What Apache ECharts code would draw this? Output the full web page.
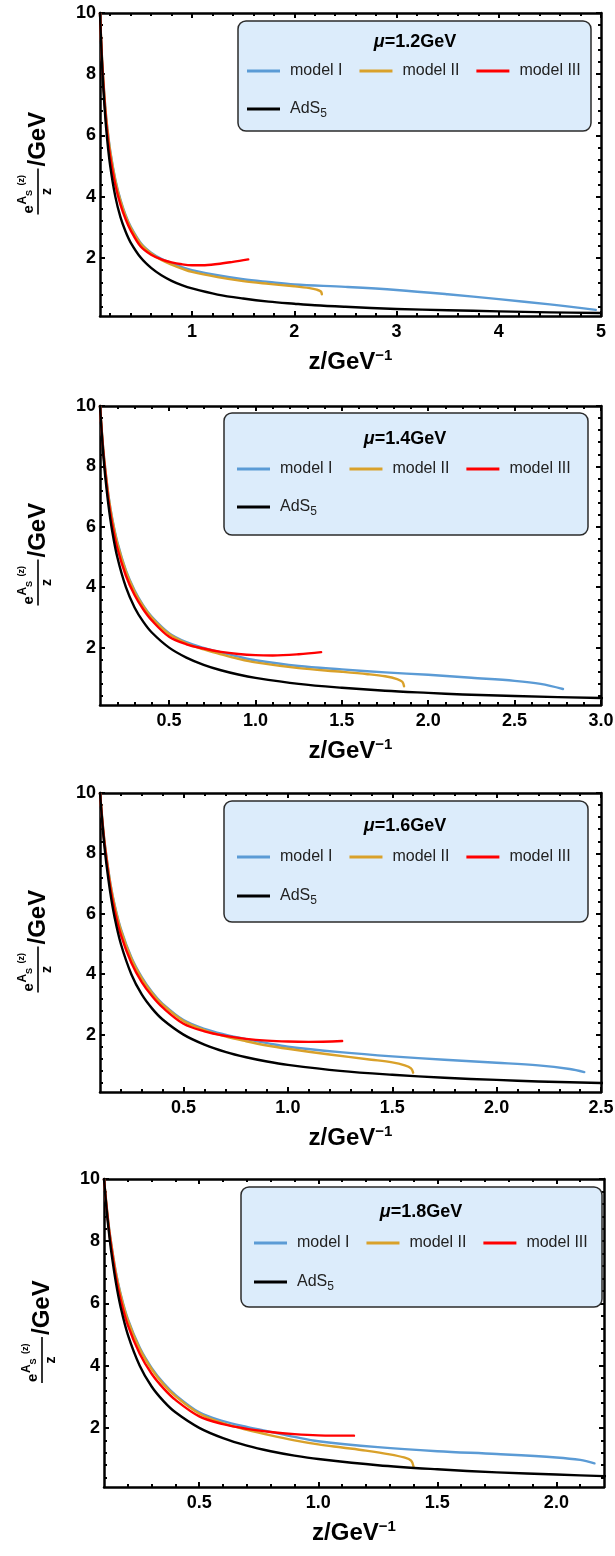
<!DOCTYPE html>
<html>
<head>
<meta charset="utf-8">
<script src="https://cdn.jsdelivr.net/npm/echarts@6/dist/echarts.min.js"></script>
<style>
  html, body { margin: 0; padding: 0; background: #fff; }
  #chart { width: 615px; height: 1556px; }
</style>
</head>
<body>
<div id="chart"></div>
<script>
// ---- data -------------------------------------------------------------
const muValues = ['1.2', '1.4', '1.6', '1.8'];           // GeV
const zMax = [5, 3, 2.5, 2.2];                            // upper z of each panel
const xTickValues = [
  [1, 2, 3, 4, 5],
  [0.5, 1.0, 1.5, 2.0, 2.5, 3.0],
  [0.5, 1.0, 1.5, 2.0, 2.5],
  [0.5, 1.0, 1.5, 2.0]
];
const yTickValues = [2, 4, 6, 8, 10];
const seriesNames = ['model I', 'model II', 'model III', 'AdS5'];

// pure AdS5 background: e^{A_s}/z with A_s = 0
const ads5 = [[0.1,10],[0.11,9.09],[0.12,8.33],[0.13,7.69],[0.15,6.67],[0.17,5.88],[0.2,5],[0.25,4],
  [0.3,3.33],[0.35,2.86],[0.4,2.5],[0.5,2],[0.6,1.67],[0.7,1.43],[0.8,1.25],[0.9,1.11],[1,1],
  [1.25,0.8],[1.5,0.67],[1.75,0.57],[2,0.5],[2.2,0.45],[2.5,0.4],[3,0.33],[3.5,0.29],[4,0.25],[4.5,0.22],[5,0.2]];

// mu = 1.2 GeV
const modelI_mu12 = [[0.1,10],[0.11,9.2],[0.12,8.5],[0.13,7.95],[0.15,7.0],[0.17,6.3],[0.2,5.5],[0.25,4.56],
  [0.3,3.9],[0.35,3.4],[0.4,3.02],[0.5,2.48],[0.6,2.17],[0.7,1.97],[0.8,1.83],[0.9,1.7],[1.0,1.6],[1.25,1.43],
  [1.5,1.3],[1.75,1.21],[2.0,1.13],[2.5,1.05],[3.0,0.95],[3.5,0.81],[4.0,0.65],[4.5,0.48],[4.95,0.3]];
const modelII_mu12 = [[0.1,10],[0.11,9.2],[0.12,8.48],[0.13,7.93],[0.15,6.97],[0.17,6.27],[0.2,5.46],[0.25,4.52],
  [0.3,3.86],[0.35,3.37],[0.4,2.99],[0.5,2.45],[0.6,2.14],[0.7,1.93],[0.8,1.78],[0.9,1.65],[1.0,1.54],[1.25,1.37],
  [1.5,1.24],[1.75,1.15],[2.0,1.07],[2.15,1.01],[2.22,0.96],[2.26,0.9],[2.27,0.81]];
const modelIII_mu12 = [[0.1,10],[0.11,9.15],[0.12,8.42],[0.13,7.85],[0.15,6.85],[0.17,6.12],[0.2,5.3],[0.25,4.38],
  [0.3,3.74],[0.35,3.27],[0.4,2.9],[0.5,2.36],[0.6,2.1],[0.7,1.95],[0.8,1.85],[0.9,1.79],[1.0,1.76],[1.1,1.76],
  [1.25,1.8],[1.4,1.87],[1.55,1.95]];

// mu = 1.4 GeV
const modelI_mu14 = [[0.1,10],[0.11,9.2],[0.12,8.5],[0.13,7.95],[0.15,7.0],[0.17,6.3],[0.2,5.5],[0.25,4.56],
  [0.3,3.9],[0.35,3.4],[0.4,3.02],[0.5,2.48],[0.6,2.18],[0.7,1.99],[0.8,1.84],[0.9,1.7],[1.0,1.58],[1.25,1.39],
  [1.5,1.28],[1.75,1.18],[2.0,1.1],[2.25,1.0],[2.5,0.9],[2.65,0.8],[2.78,0.63]];
const modelII_mu14 = [[0.1,10],[0.11,9.2],[0.12,8.48],[0.13,7.93],[0.15,6.97],[0.17,6.27],[0.2,5.46],[0.25,4.52],
  [0.3,3.86],[0.35,3.37],[0.4,2.99],[0.5,2.45],[0.6,2.14],[0.7,1.94],[0.8,1.78],[0.9,1.63],[1.0,1.51],[1.25,1.32],
  [1.5,1.2],[1.65,1.12],[1.75,1.05],[1.82,0.96],[1.85,0.87],[1.86,0.72]];
const modelIII_mu14 = [[0.1,10],[0.11,9.15],[0.12,8.42],[0.13,7.85],[0.15,6.85],[0.17,6.12],[0.2,5.3],[0.25,4.38],
  [0.3,3.74],[0.35,3.27],[0.4,2.9],[0.5,2.36],[0.6,2.11],[0.7,1.97],[0.8,1.86],[0.9,1.79],[1.0,1.75],[1.1,1.74],
  [1.25,1.78],[1.38,1.85]];

// mu = 1.6 GeV
const modelI_mu16 = [[0.1,10],[0.11,9.2],[0.12,8.5],[0.13,7.95],[0.15,7.0],[0.17,6.3],[0.2,5.5],[0.25,4.56],
  [0.3,3.9],[0.35,3.4],[0.4,3.02],[0.5,2.48],[0.6,2.19],[0.7,2.0],[0.8,1.85],[0.9,1.72],[1.0,1.6],[1.25,1.42],
  [1.5,1.28],[1.75,1.17],[2.0,1.07],[2.2,0.98],[2.35,0.86],[2.42,0.76]];
const modelII_mu16 = [[0.1,10],[0.11,9.2],[0.12,8.48],[0.13,7.93],[0.15,6.97],[0.17,6.27],[0.2,5.46],[0.25,4.52],
  [0.3,3.86],[0.35,3.37],[0.4,2.99],[0.5,2.45],[0.6,2.15],[0.7,1.94],[0.8,1.78],[0.9,1.64],[1.0,1.53],[1.2,1.34],
  [1.4,1.17],[1.5,1.08],[1.56,0.98],[1.59,0.88],[1.6,0.74]];
const modelIII_mu16 = [[0.1,10],[0.11,9.15],[0.12,8.42],[0.13,7.85],[0.15,6.85],[0.17,6.12],[0.2,5.3],[0.25,4.38],
  [0.3,3.74],[0.35,3.27],[0.4,2.9],[0.5,2.36],[0.6,2.11],[0.7,1.96],[0.8,1.86],[0.9,1.8],[1.0,1.77],[1.1,1.76],
  [1.26,1.79]];

// mu = 1.8 GeV
const modelI_mu18 = [[0.1,10],[0.11,9.2],[0.12,8.5],[0.13,7.95],[0.15,7.0],[0.17,6.3],[0.2,5.5],[0.25,4.58],
  [0.3,3.93],[0.35,3.44],[0.4,3.06],[0.5,2.5],[0.6,2.22],[0.7,2.03],[0.8,1.87],[0.9,1.71],[1.0,1.57],[1.25,1.38],
  [1.5,1.25],[1.75,1.16],[2.0,1.05],[2.1,0.97],[2.16,0.86]];
const modelII_mu18 = [[0.1,10],[0.11,9.2],[0.12,8.48],[0.13,7.93],[0.15,6.97],[0.17,6.27],[0.2,5.46],[0.25,4.54],
  [0.3,3.89],[0.35,3.4],[0.4,3.02],[0.5,2.46],[0.6,2.15],[0.7,1.94],[0.8,1.76],[0.9,1.6],[1.0,1.47],[1.1,1.37],
  [1.2,1.27],[1.3,1.15],[1.36,1.05],[1.39,0.95],[1.4,0.76]];
const modelIII_mu18 = [[0.1,10],[0.11,9.15],[0.12,8.42],[0.13,7.85],[0.15,6.85],[0.17,6.12],[0.2,5.3],[0.25,4.38],
  [0.3,3.74],[0.35,3.27],[0.4,2.9],[0.5,2.37],[0.6,2.12],[0.7,1.97],[0.8,1.87],[0.9,1.8],[1.0,1.76],[1.15,1.75]];

const panelSeries = [
  [modelI_mu12, modelII_mu12, modelIII_mu12, ads5],
  [modelI_mu14, modelII_mu14, modelIII_mu14, ads5],
  [modelI_mu16, modelII_mu16, modelIII_mu16, ads5],
  [modelI_mu18, modelII_mu18, modelIII_mu18, ads5]
];

// ---- layout & style ---------------------------------------------------
const FONT = '"Liberation Sans", Arial, Helvetica, sans-serif';
const colors = ['#5b9bd5', '#d9a12a', '#ff0000', '#000000'];

const layout = [
  { grid: { left: 100, top: 13, width: 501, height: 303 }, minorX: 0.2, dec: 0,
    box: [238, 21, 353, 110], titleC: [415, 43], row1: 72, row2: 110, itemLeft: 247 },
  { grid: { left: 100, top: 406, width: 501, height: 299 }, minorX: 0.1, dec: 1,
    box: [224, 413, 364, 122], titleC: [405, 440], row1: 470, row2: 508, itemLeft: 237 },
  { grid: { left: 100, top: 793, width: 501, height: 299 }, minorX: 0.1, dec: 1,
    box: [224, 801, 364, 121], titleC: [405, 827], row1: 858, row2: 897, itemLeft: 237 },
  { grid: { left: 104, top: 1179, width: 500, height: 308 }, minorX: 0.1, dec: 1,
    box: [241, 1187, 361, 120], titleC: [421, 1213], row1: 1244, row2: 1283, itemLeft: 254 }
];

function minorValues(max, step, majorStep) {
  const out = [];
  for (let k = 1; k * step < max - 1e-9; k++) {
    const v = Math.round(k * step * 100) / 100;
    if (v <= 0.1 + 1e-9) continue;
    const r = v / majorStep;
    if (Math.abs(r - Math.round(r)) < 1e-6) continue;
    out.push(v);
  }
  return out;
}

const tickLine = { color: '#000', width: 2 };
const frameLine = { show: true, onZero: false, lineStyle: { color: '#000', width: 2.5 } };

function axisPair(dim, gi, pos, min, max, majors, minors, withLabels, dec) {
  const base = {
    gridIndex: gi, type: 'value', min: min, max: max, position: pos,
    splitLine: { show: false }, axisLabel: { show: false },
    axisLine: { show: false, onZero: false }
  };
  const major = Object.assign({}, base, {
    axisLine: frameLine,
    axisTick: { show: true, inside: true, length: 5, lineStyle: tickLine, customValues: majors }
  });
  if (withLabels) {
    major.axisLabel = {
      show: true, customValues: majors, color: '#000', fontFamily: FONT, fontWeight: 'bold', fontSize: 18,
      margin: dim === 'x' ? 7 : 4,
      formatter: v => (dim === 'x' ? Number(v).toFixed(dec) : String(v))
    };
  }
  const minor = Object.assign({}, base, {
    axisTick: { show: true, inside: true, length: 3, lineStyle: tickLine, customValues: minors }
  });
  return [major, minor];
}

const grids = [], xAxes = [], yAxes = [], series = [], legends = [], titles = [], graphics = [];

layout.forEach((L, gi) => {
  grids.push(Object.assign({ containLabel: false, outerBoundsMode: 'none' }, L.grid));
  const xMaj = xTickValues[gi];
  const xMin = minorValues(zMax[gi], L.minorX, gi === 0 ? 1 : 0.5);
  const yMin = minorValues(10, 0.4, 2);

  const xb = axisPair('x', gi, 'bottom', 0.1, zMax[gi], xMaj, xMin, true, L.dec);
  xb[0].name = 'z/GeV{sup|\u22121}';
  xb[0].nameLocation = 'middle';
  xb[0].nameGap = 32;
  xb[0].nameTextStyle = {
    color: '#000', fontFamily: FONT, fontWeight: 'bold', fontSize: 24, lineHeight: 28,
    rich: { sup: { fontFamily: FONT, fontWeight: 'bold', fontSize: 15, verticalAlign: 'top', lineHeight: 14 } }
  };
  const xt = axisPair('x', gi, 'top', 0.1, zMax[gi], xMaj, xMin, false);
  xAxes.push(xb[0], xb[1], xt[0], xt[1]);

  const yl = axisPair('y', gi, 'left', 0.1, 10, yTickValues, yMin, true);
  const yr = axisPair('y', gi, 'right', 0.1, 10, yTickValues, yMin, false);
  yAxes.push(yl[0], yl[1], yr[0], yr[1]);

  panelSeries[gi].forEach((data, si) => {
    series.push({
      name: seriesNames[si], type: 'line', data: data,
      xAxisIndex: gi * 4, yAxisIndex: gi * 4,
      showSymbol: false, symbol: 'none', smooth: 0.35,
      color: colors[si], lineStyle: { color: colors[si], width: 2.4, join: 'round', cap: 'round' },
      clip: true, silent: true, animation: false
    });
  });

  // legend frame
  graphics.push({
    type: 'rect', z: 10,
    shape: { x: L.box[0], y: L.box[1], width: L.box[2], height: L.box[3], r: 8 },
    style: { fill: '#dcecfb', stroke: '#2b2b2b', lineWidth: 1.5 }
  });

  titles.push({
    text: '{mu|\u03bc}=' + muValues[gi] + 'GeV',
    left: L.titleC[0], top: L.titleC[1] - 10, textAlign: 'center', padding: 0, z: 20,
    textStyle: {
      color: '#000', fontFamily: FONT, fontWeight: 'bold', fontSize: 18,
      rich: { mu: { fontFamily: FONT, fontWeight: 'bold', fontStyle: 'italic', fontSize: 18 } }
    }
  });

  const legendCommon = {
    orient: 'horizontal', itemWidth: 33, itemHeight: 3, itemGap: 17, icon: 'rect', padding: 0,
    selectedMode: false, z: 20,
    textStyle: {
      color: '#222', fontFamily: FONT, fontSize: 16, padding: [0, 0, 0, 5],
      rich: { sub: { fontFamily: FONT, fontSize: 12, verticalAlign: 'bottom', padding: [9, 0, 0, 0] } }
    },
    formatter: name => (name === 'AdS5' ? 'AdS{sub|5}' : name)
  };
  legends.push(Object.assign({}, legendCommon, { data: seriesNames.slice(0, 3), left: L.itemLeft, top: L.row1 - 9 }));
  legends.push(Object.assign({}, legendCommon, { data: ['AdS5'], left: L.itemLeft, top: L.row2 - 9 }));

  // rotated y-axis name: e^{A_s(z)}/z  /GeV
  const cx = L.grid.left - 62;
  const cy = L.grid.top + L.grid.height / 2 - 4;
  const bold = (s, size) => ({ text: s, fontFamily: FONT, fontWeight: 'bold', fontSize: size, fill: '#000' });
  const at = (x, y, h, v) => ({ x: x, y: y, align: h, verticalAlign: v, textAlign: h, textVerticalAlign: v });
  graphics.push({
    type: 'group', x: cx, y: cy, rotation: Math.PI / 2, z: 20,
    children: [
      { type: 'text', style: Object.assign(bold('/GeV', 24), at(-6, 0, 'left', 'middle')) },
      { type: 'line', shape: { x1: -54, y1: 0, x2: -8, y2: 0 }, style: { stroke: '#000', lineWidth: 1.6 } },
      { type: 'text', style: Object.assign(bold('e', 15), at(-53, -2, 'left', 'bottom')) },
      { type: 'text', style: Object.assign(bold('A', 12), at(-44, -9, 'left', 'bottom')) },
      { type: 'text', style: Object.assign(bold('S', 9), at(-35.5, -4, 'left', 'bottom')) },
      { type: 'text', style: Object.assign(bold('(z)', 9), at(-25, -12, 'left', 'bottom')) },
      { type: 'text', style: Object.assign(bold('z', 14), at(-31, 2, 'center', 'top')) }
    ]
  });
});

const chart = echarts.init(document.getElementById('chart'), null, { renderer: 'canvas' });
chart.setOption({
  animation: false,
  backgroundColor: '#ffffff',
  grid: grids,
  xAxis: xAxes,
  yAxis: yAxes,
  series: series,
  legend: legends,
  title: titles,
  graphic: graphics
});
</script>
</body>
</html>
